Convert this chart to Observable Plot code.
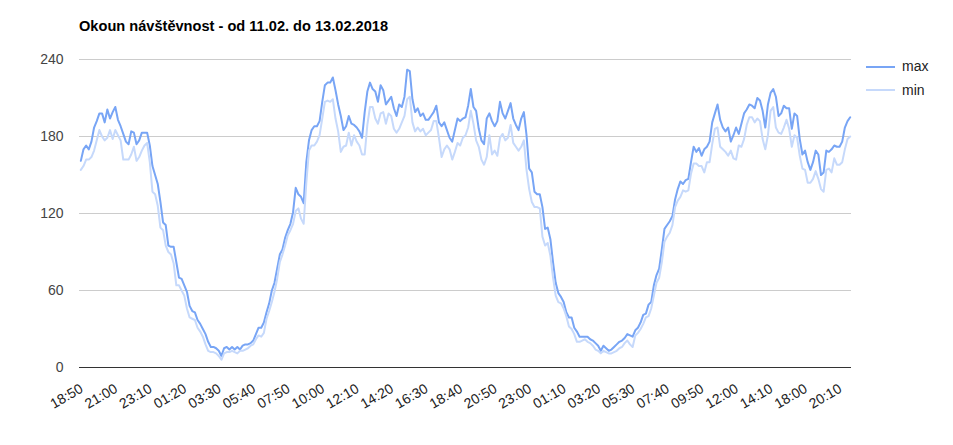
<!DOCTYPE html>
<html>
<head>
<meta charset="utf-8">
<script src="https://cdn.jsdelivr.net/npm/d3@7"></script>
<script src="https://cdn.jsdelivr.net/npm/@observablehq/plot@0.6"></script>
<style>
  html, body { margin: 0; padding: 0; background: #fff; }
  body { width: 953px; height: 445px; overflow: hidden; position: relative; font-family: Arial, "Liberation Sans", sans-serif; }
  #title { position: relative; height: 45px; }
  #title span { position: absolute; left: 79px; top: 19px; font-weight: bold; font-size: 14.6px; line-height: 15px; color: #000; white-space: nowrap; }
  #legend { position: absolute; left: 866px; top: 55px; font-size: 14px; color: #222; }
  .row { position: relative; height: 23.5px; }
  .row .sw { position: absolute; left: 0; top: 10.5px; width: 29px; height: 2px; }
  .row .lb { position: absolute; left: 36px; top: 4px; line-height: 15px; }
</style>
</head>
<body>
<div id="title"><span>Okoun návštěvnost - od 11.02. do 13.02.2018</span></div>
<div id="chart"></div>
<div id="legend"></div>
<script>
const seriesNames = ["max", "min"];
const seriesColors = ["#78a5f5", "#c6d9fb"];

const tickLabels = ["18:50","21:00","23:10","01:20","03:30","05:40","07:50","10:00","12:10","14:20","16:30","18:40","20:50","23:00","01:10","03:20","05:30","07:40","09:50","12:00","14:10","18:00","20:10"];
const tickStep = 13;

const maxVals = [
161,170,173,170,176,187,192,198,198,191,201,194,199,203,193,188,182,176,174,184,183,174,177,183,183,183,173,157,150,143,129,113,111,95,94,94,82,70,69,64,59,48,44,43,37,34,30,26,20,
16,16,15,13,9,15,16,14,16,14,16,14,17,18,18,19,21,26,31,31,35,43,50,60,66,77,88,92,101,107,112,121,140,135,133,128,160,177,185,188,188,192,207,220,222,222,226,216,205,
196,185,188,196,190,189,187,184,179,199,215,222,217,215,207,220,216,205,208,211,202,196,205,203,211,232,231,209,199,202,196,198,193,193,196,199,204,191,188,191,185,179,176,185,194,192,194,195,
204,217,203,200,186,177,174,194,198,192,188,192,207,198,194,200,206,194,189,185,194,199,181,155,152,137,135,135,125,108,109,100,82,66,58,55,51,43,39,39,31,28,24,24,24,24,22,21,
19,17,13,17,15,13,14,16,18,20,21,23,26,25,24,29,31,35,41,42,49,51,64,72,77,92,108,111,114,118,131,139,145,143,146,147,160,172,168,171,165,170,172,176,191,198,205,193,187,
184,187,176,181,187,182,190,198,201,205,204,202,210,208,200,187,205,214,217,211,196,198,204,202,202,186,198,196,178,166,169,160,154,160,169,166,150,152,169,168,170,173,172,172,176,187,192,195
];

const minVals = [
154,157,162,162,164,169,177,185,180,177,179,185,178,185,181,177,162,162,162,166,172,161,164,169,173,175,160,137,135,126,109,107,95,90,88,81,64,64,60,56,46,39,38,37,31,28,24,18,13,
12,12,11,9,6,11,12,12,13,12,11,13,13,14,15,17,18,22,25,24,27,38,44,51,59,69,82,88,95,103,107,112,122,124,116,112,144,169,173,173,176,181,194,207,208,207,209,194,184,
168,172,173,183,173,181,176,173,166,166,189,203,203,194,190,198,199,190,198,196,186,183,186,191,196,209,211,191,184,187,184,186,181,183,185,192,192,179,164,170,173,170,162,168,175,173,179,181,
187,200,190,177,172,162,158,164,181,166,169,165,179,182,177,179,189,175,172,169,172,177,154,139,129,125,125,124,102,95,97,87,70,56,51,50,46,40,32,30,26,20,20,21,22,20,19,17,
14,13,11,13,12,11,11,12,13,15,16,19,21,18,16,25,27,30,34,39,40,46,56,66,70,82,98,102,105,111,125,130,133,138,137,138,151,159,159,157,157,152,160,160,174,186,187,172,170,
168,165,169,163,162,173,172,178,189,195,195,191,194,192,178,170,181,200,203,187,183,182,187,193,186,172,181,179,165,155,154,144,144,147,153,147,139,137,154,155,152,163,158,158,160,170,178,180
];

const yTicks = [0, 60, 120, 180, 240];

const n = maxVals.length;
const rows = [];
[maxVals, minVals].forEach((vals, s) => {
  vals.forEach((v, i) => rows.push({i, v, s: seriesNames[s]}));
});
const ticks = tickLabels.map((t, k) => ({i: k * tickStep, t}));

const font = 'Arial, "Liberation Sans", sans-serif';

const chart = Plot.plot({
  width: 953,
  height: 400,
  marginLeft: 79,
  marginRight: 102,
  marginTop: 14,
  marginBottom: 78,
  style: {fontFamily: font, fontSize: "14px", background: "#fff", overflow: "visible"},
  x: {domain: [-0.5, n - 0.5], axis: null},
  y: {domain: [0, 240], axis: null},
  color: {domain: seriesNames, range: seriesColors},
  marks: [
    Plot.ruleY(yTicks.filter(d => d > 0), {stroke: "#cccccc", strokeWidth: 1}),
    Plot.text(yTicks, {y: d => d, text: d => String(d), frameAnchor: "left", dx: -16, textAnchor: "end", fill: "#444", fontSize: 14}),
    Plot.line(rows.filter(d => d.s === "max"), {x: "i", y: "v", stroke: seriesColors[0], strokeWidth: 2, curve: "linear"}),
    Plot.line(rows.filter(d => d.s === "min"), {x: "i", y: "v", stroke: seriesColors[1], strokeWidth: 2, curve: "linear"}),
    Plot.ruleY([0], {stroke: "#333333", strokeWidth: 1}),
    Plot.text(ticks, {x: "i", text: "t", frameAnchor: "bottom", dy: 20, dx: 1, rotate: -30, textAnchor: "end", lineAnchor: "middle", fill: "#222", fontSize: 14})
  ]
});
document.getElementById("chart").appendChild(chart);

const legend = document.getElementById("legend");
seriesNames.forEach((name, k) => {
  const row = document.createElement("div");
  row.className = "row";
  const sw = document.createElement("div");
  sw.className = "sw";
  sw.style.background = seriesColors[k];
  const lb = document.createElement("div");
  lb.className = "lb";
  lb.textContent = name;
  row.appendChild(sw);
  row.appendChild(lb);
  legend.appendChild(row);
});
</script>
</body>
</html>
